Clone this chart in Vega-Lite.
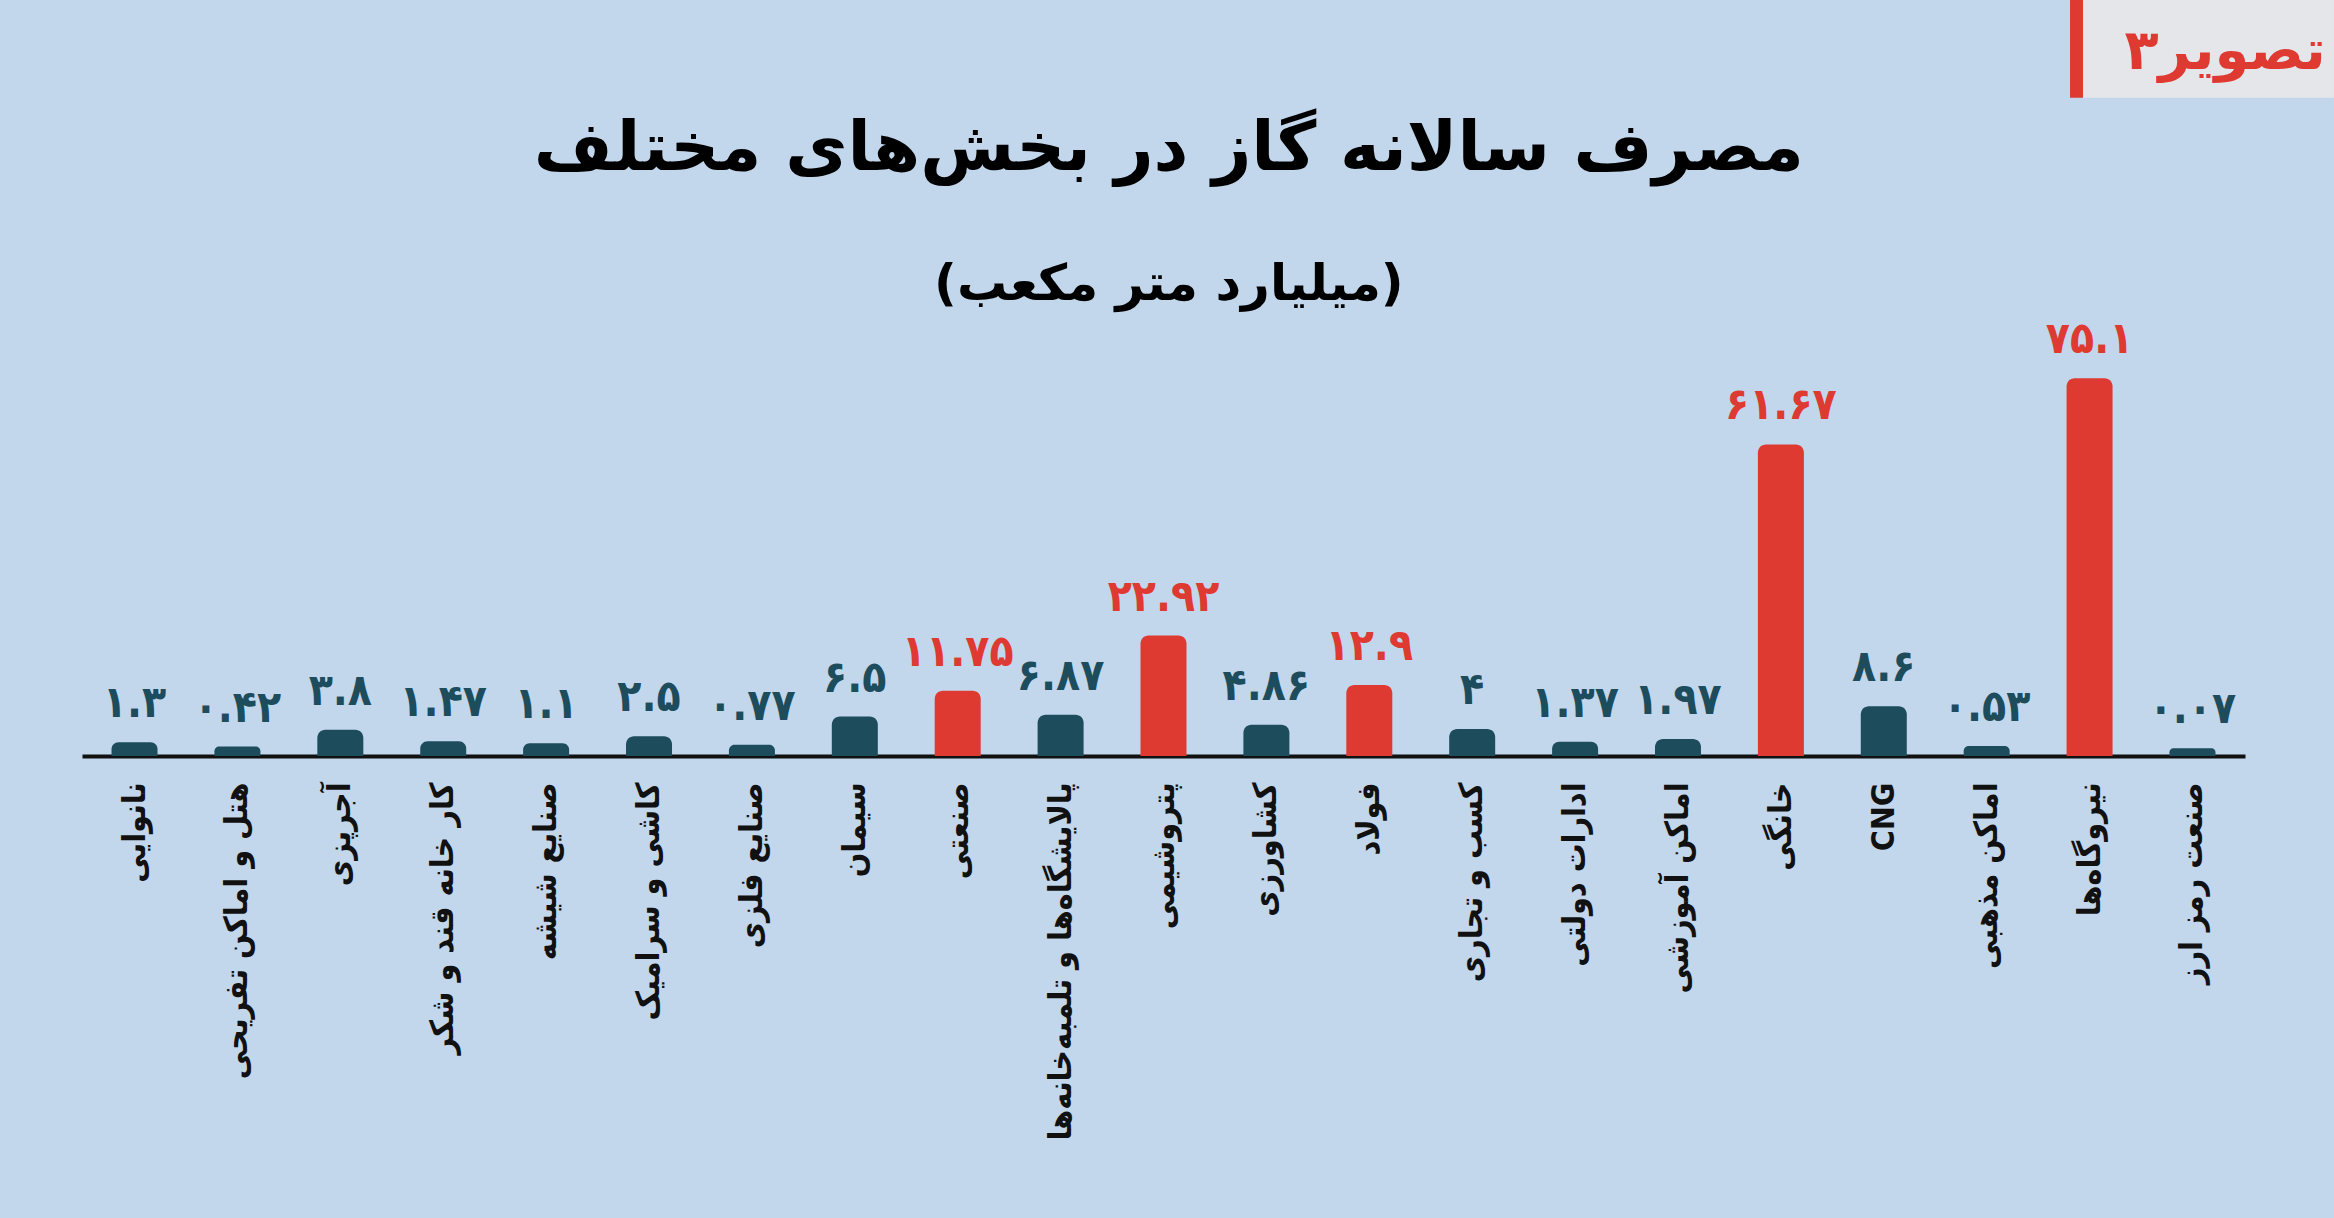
{
  "$schema": "https://vega.github.io/schema/vega-lite/v6.json",
  "width": 2163,
  "height": 756,
  "autosize": {"type": "none"},
  "padding": {"left": 82, "top": 0, "right": 89, "bottom": 462},
  "background": "#c3d7ec",
  "config": {"view": {"stroke": null}, "font": "DejaVu Sans"},
  "data": {
    "values": [
      {"sector": "نانوایی", "value": 1.3, "label": "۱.۳"},
      {"sector": "هتل و اماکن تفریحی", "value": 0.42, "label": "۰.۴۲"},
      {"sector": "آجرپزی", "value": 3.8, "label": "۳.۸"},
      {"sector": "کار خانه قند و شکر", "value": 1.47, "label": "۱.۴۷"},
      {"sector": "صنایع شیشه", "value": 1.1, "label": "۱.۱"},
      {"sector": "کاشی و سرامیک", "value": 2.5, "label": "۲.۵"},
      {"sector": "صنایع فلزی", "value": 0.77, "label": "۰.۷۷"},
      {"sector": "سیمان", "value": 6.5, "label": "۶.۵"},
      {"sector": "صنعتی", "value": 11.75, "label": "۱۱.۷۵"},
      {"sector": "پالایشگاه\u200cها و تلمبه\u200cخانه\u200cها", "value": 6.87, "label": "۶.۸۷"},
      {"sector": "پتروشیمی", "value": 22.92, "label": "۲۲.۹۲"},
      {"sector": "کشاورزی", "value": 4.86, "label": "۴.۸۶"},
      {"sector": "فولاد", "value": 12.9, "label": "۱۲.۹"},
      {"sector": "کسب و تجاری", "value": 4, "label": "۴"},
      {"sector": "ادارات دولتی", "value": 1.37, "label": "۱.۳۷"},
      {"sector": "اماکن آموزشی", "value": 1.97, "label": "۱.۹۷"},
      {"sector": "خانگی", "value": 61.67, "label": "۶۱.۶۷"},
      {"sector": "CNG", "value": 8.6, "label": "۸.۶"},
      {"sector": "اماکن مذهبی", "value": 0.53, "label": "۰.۵۳"},
      {"sector": "نیروگاه\u200cها", "value": 75.1, "label": "۷۵.۱"},
      {"sector": "صنعت رمز ارز", "value": 0.07, "label": "۰.۰۷"}
    ]
  },
  "layer": [
    {
      "encoding": {
        "x": {
          "field": "sector",
          "type": "nominal",
          "sort": null,
          "scale": {"paddingInner": 0.553, "paddingOuter": 0.287},
          "axis": {
            "title": null,
            "ticks": false,
            "domainColor": "#111111",
            "domainWidth": 4,
            "labelAngle": -90,
            "labelAlign": "right",
            "labelBaseline": "middle",
            "labelPadding": 26,
            "labelFont": "DejaVu Sans Condensed, DejaVu Sans",
            "labelFontSize": 32,
            "labelFontWeight": "bold",
            "labelColor": "#111111",
            "labelLimit": 1000,
            "grid": false
          }
        },
        "y": {
          "field": "value",
          "type": "quantitative",
          "scale": {"domain": [-1.5, 151.8], "nice": false, "zero": false},
          "axis": null
        },
        "color": {
          "condition": {"test": "datum.value > 10", "value": "#df3a32"},
          "value": "#1d4c5c"
        }
      },
      "layer": [
        {
          "mark": {"type": "bar", "cornerRadiusTopLeft": 8, "cornerRadiusTopRight": 8},
          "encoding": {"y2": {"datum": -1.5}}
        },
        {
          "mark": {"type": "text", "baseline": "bottom", "dy": -16, "fontSize": 44, "fontWeight": "bold", "font": "DejaVu Sans Condensed, DejaVu Sans"},
          "encoding": {"text": {"field": "label"}}
        }
      ]
    },
    {
      "data": {"values": [{}]},
      "layer": [
        {
          "mark": {"type": "rect", "color": "#e4e6ea"},
          "encoding": {
            "x": {"datum": 0.9251, "type": "quantitative", "scale": {"domain": [0, 1], "nice": false, "zero": false}, "axis": null},
            "x2": {"datum": 1.0411},
            "y": {"datum": 151.8, "type": "quantitative", "axis": null},
            "y2": {"datum": 132.0}
          }
        },
        {
          "mark": {"type": "rect", "color": "#df3a32"},
          "encoding": {
            "x": {"datum": 0.9191, "type": "quantitative", "axis": null},
            "x2": {"datum": 0.9251},
            "y": {"datum": 151.8, "type": "quantitative", "axis": null},
            "y2": {"datum": 132.0}
          }
        },
        {
          "mark": {"type": "text", "text": "تصویر۳", "fontSize": 56, "fontWeight": "bold", "color": "#df3a32", "align": "center", "baseline": "middle"},
          "encoding": {
            "x": {"datum": 0.9908, "type": "quantitative", "axis": null},
            "y": {"datum": 141.3, "type": "quantitative", "axis": null}
          }
        },
        {
          "mark": {"type": "text", "text": "مصرف سالانه گاز در بخش\u200cهای مختلف", "fontSize": 68, "fontWeight": "bold", "color": "#000000", "align": "center", "baseline": "middle"},
          "encoding": {
            "x": {"datum": 0.5025, "type": "quantitative", "axis": null},
            "y": {"datum": 121.4, "type": "quantitative", "axis": null}
          }
        },
        {
          "mark": {"type": "text", "text": "(میلیارد متر مکعب)", "fontSize": 50, "fontWeight": "bold", "color": "#000000", "align": "center", "baseline": "middle"},
          "encoding": {
            "x": {"datum": 0.5025, "type": "quantitative", "axis": null},
            "y": {"datum": 94.0, "type": "quantitative", "axis": null}
          }
        }
      ]
    }
  ],
  "resolve": {"scale": {"x": "independent"}}
}
